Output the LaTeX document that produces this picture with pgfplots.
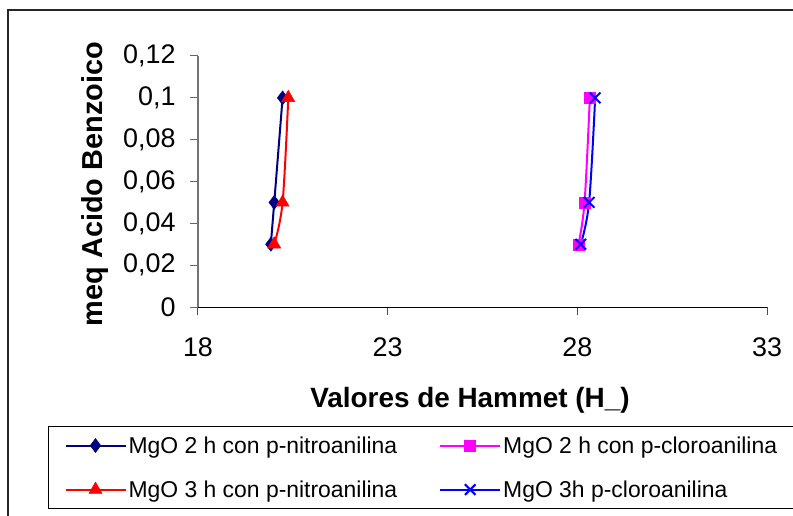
\documentclass[border=0pt]{standalone}
\usepackage{fontspec}
\setmainfont{Liberation Sans}
\usepackage{pgfplots}
\pgfplotsset{compat=1.18}
\definecolor{navy}{RGB}{0,0,128}
\definecolor{mag}{RGB}{255,0,255}
\definecolor{blu}{RGB}{0,0,255}
\definecolor{rd}{RGB}{255,0,0}
\begin{document}
\begin{tikzpicture}
\begin{axis}[
  scale only axis, width=569bp, height=251bp,
  xmin=18, xmax=33, ymin=0, ymax=0.12,
  xtick={18,23,28,33}, ytick={0,0.02,0.04,0.06,0.08,0.1,0.12},
  xticklabels={18,23,28,33},
  yticklabels={0,{0,02},{0,04},{0,06},{0,08},{0,1},{0,12}},
  axis x line*=bottom, axis y line*=left,
  x axis line style={black, line width=1bp, -},
  y axis line style={black!55, line width=1.2bp, -},
  xtick style={black!70, line width=1bp},
  ytick style={black!60, line width=1bp},
  tick align=outside, major tick length=8bp,
  ticklabel style={font=\fontsize{27}{30}\selectfont},
  xticklabel style={yshift=-19bp},
  yticklabel style={xshift=-11bp},
  xlabel={Valores de Hammet (H\textunderscore)},
  ylabel={meq Acido Benzoico},
  xlabel style={font=\bfseries\fontsize{28}{31}\selectfont, at={(axis description cs:0.478,-0.37)}, anchor=center},
  ylabel style={font=\bfseries\fontsize{29}{32}\selectfont, at={(axis description cs:-0.181,0.49)}, anchor=center},
  legend columns=2,
  legend cell align=left,
  legend style={at={(axis description cs:-0.2636,-0.474)}, anchor=north west,
    draw=black, line width=1bp, font=\fontsize{23}{27}\selectfont,
    row sep=22bp, inner xsep=16bp, inner ysep=8bp,
    /tikz/every even column/.append style={column sep=40bp}},
  legend image code/.code={\draw[mark repeat=2,mark phase=2,#1] plot coordinates {(0bp,0bp)(30bp,0bp)(60bp,0bp)};},
  every axis plot/.append style={line width=2bp, smooth, tension=0.55},
]
\addplot[navy, mark=diamond*, mark size=7bp, mark options={solid, fill=navy, line width=0.5bp}] coordinates {(19.92,0.03) (20.01,0.05) (20.23,0.1)};
\addlegendentry{MgO 2 h con p-nitroanilina}
\addplot[mag, mark=square*, mark size=5.5bp, mark options={solid, fill=mag, line width=0.5bp}] coordinates {(28.03,0.03) (28.19,0.05) (28.33,0.1)};
\addlegendentry{MgO 2 h con p-cloroanilina}
\addplot[rd, mark=triangle*, mark size=7.5bp, mark options={solid, fill=rd, line width=0.5bp}] coordinates {(20.01,0.03) (20.23,0.05) (20.38,0.1)};
\addlegendentry{MgO 3 h con p-nitroanilina}
\addplot[blu, mark=x, mark size=7.5bp, mark options={solid, line width=2bp}] coordinates {(28.09,0.03) (28.31,0.05) (28.47,0.1)};
\addlegendentry{MgO 3h p-cloroanilina}
\end{axis}
\draw[line width=1.5bp, black!85] (-190bp,297bp) rectangle (620bp,-240bp);
\pgfresetboundingbox
\useasboundingbox (-198bp,-209bp) rectangle (595bp,307bp);
\end{tikzpicture}
\end{document}
